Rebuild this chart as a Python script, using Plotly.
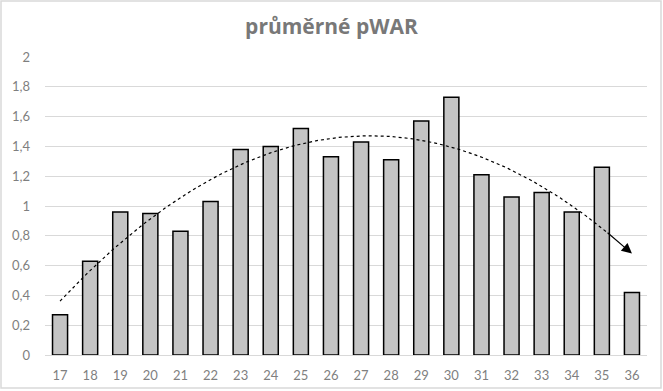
import numpy as np
import plotly.graph_objects as go

ages = [17, 18, 19, 20, 21, 22, 23, 24, 25, 26, 27, 28, 29, 30, 31, 32, 33, 34, 35, 36]
pwar = [0.27, 0.63, 0.96, 0.95, 0.83, 1.03, 1.38, 1.40, 1.52, 1.33,
        1.43, 1.31, 1.57, 1.73, 1.21, 1.06, 1.09, 0.96, 1.26, 0.42]
y_ticks = [0, 0.2, 0.4, 0.6, 0.8, 1, 1.2, 1.4, 1.6, 1.8, 2]
y_tick_text = ["0", "0,2", "0,4", "0,6", "0,8", "1", "1,2", "1,4", "1,6", "1,8", "2"]

# polynomial (order 2) trendline fitted to the data
coef = np.polyfit(ages, pwar, 2)
xt = np.linspace(ages[0], ages[-1], 200)
yt = np.polyval(coef, xt)

W, H = 663, 391
ml, mr, mt, mb = 45, 16, 57, 36
pw, ph = W - ml - mr, H - mt - mb

fig = go.Figure()
fig.add_trace(go.Bar(
    x=ages, y=pwar,
    marker=dict(color="#c4c4c4", line=dict(color="#000000", width=1.5)),
    hoverinfo="skip",
))
fig.add_trace(go.Scatter(
    x=xt[:-8], y=yt[:-8], mode="lines",
    line=dict(color="#000000", width=1.2, dash="dot"),
    hoverinfo="skip",
))
fig.add_annotation(
    x=xt[-1], y=yt[-1], ax=xt[-10], ay=yt[-10],
    xref="x", yref="y", axref="x", ayref="y",
    text="", showarrow=True, arrowhead=2, arrowsize=1.7, arrowwidth=1.2,
    arrowcolor="#000000",
)

fig.update_layout(
    width=W, height=H,
    margin=dict(l=ml, r=mr, t=mt, b=mb),
    paper_bgcolor="white", plot_bgcolor="white",
    showlegend=False,
    bargap=0.5,
    font=dict(family="Lato, Open Sans, sans-serif", color="#7f7f7f", size=13),
    title=dict(text="<b>průměrné pWAR</b>", x=0.5, xanchor="center",
               y=1 - 27 / H, yanchor="middle",
               font=dict(size=21, color="#787878", family="Open Sans, Lato, sans-serif")),
    xaxis=dict(type="linear", tickmode="array", tickvals=ages, ticktext=[str(a) for a in ages],
               range=[16.5, 36.5], showgrid=False, zeroline=False, automargin=False,
               showline=False, ticks="", ticklabelstandoff=11, tickfont=dict(size=13)),
    yaxis=dict(range=[0, 2], tickmode="array", tickvals=y_ticks, ticktext=y_tick_text,
               showgrid=True, gridcolor="#d9d9d9", gridwidth=1, zeroline=True, automargin=False,
               zerolinecolor="#d9d9d9", zerolinewidth=1, showline=False, ticks="",
               ticklabelstandoff=14, tickfont=dict(size=13)),
    shapes=[dict(type="rect", xref="paper", yref="paper",
                 x0=(1 - ml) / pw, x1=(W - 2 - ml) / pw,
                 y0=-(H - 3 - (H - mb)) / ph, y1=(H - mb - 1) / ph,
                 line=dict(color="#d9d9d9", width=1.5), layer="below")],
)

fig.write_html("out.html", config={"displayModeBar": False})
with open("out.html", encoding="utf-8") as f:
    html = f.read()
html = html.replace("<head>", "<head><style>html,body{margin:0;padding:0;overflow:hidden;}</style>", 1)
with open("out.html", "w", encoding="utf-8") as f:
    f.write(html)
